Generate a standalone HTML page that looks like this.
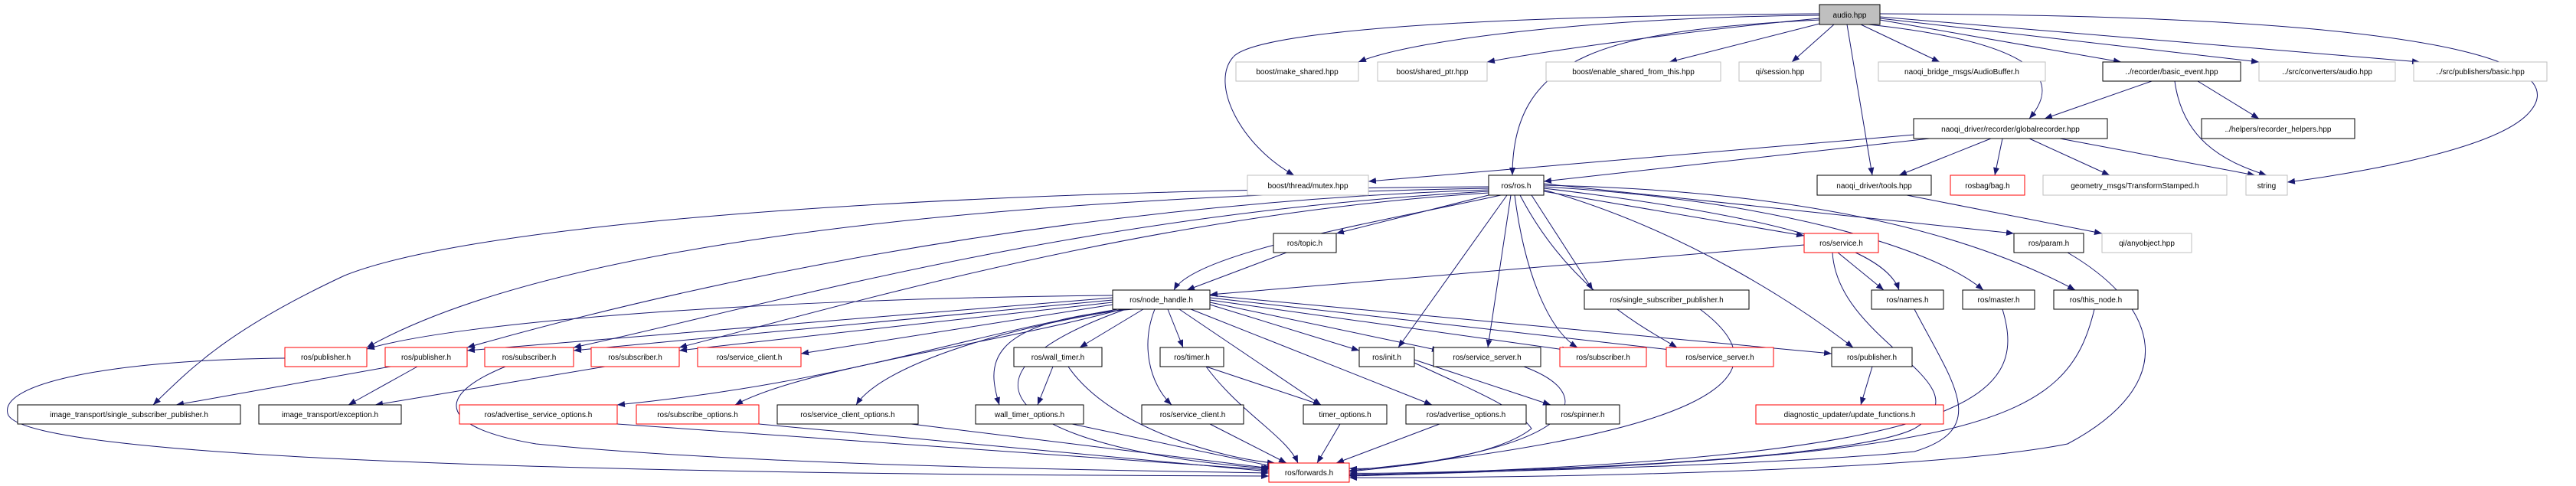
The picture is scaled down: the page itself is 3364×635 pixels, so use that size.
<!DOCTYPE html>
<html><head><meta charset="utf-8"><style>
html,body{margin:0;padding:0;background:#fff;}
svg{display:block;}
text{font-family:"Liberation Sans",sans-serif;font-size:10px;text-anchor:middle;fill:#000;}
.e{fill:none;stroke:#191970;stroke-width:1;marker-end:url(#a);}
.b{fill:#fff;stroke:#000;stroke-width:1;}
.g{fill:#fff;stroke:#bfbfbf;stroke-width:1;}
.r{fill:#fff;stroke:#ff0000;stroke-width:1;}
</style></head><body>
<svg width="3364" height="635" viewBox="0 0 3364 635" xmlns="http://www.w3.org/2000/svg">
<defs><marker id="a" markerWidth="10" markerHeight="8" refX="10" refY="4" orient="auto" markerUnits="userSpaceOnUse"><path d="M0,0 L10,4 L0,8z" fill="#191970"/></marker></defs>
<g>
<!-- audio edges -->
<path class="e" d="M2376,20 C2100,22 1850,50 1774,81"/>
<path class="e" d="M2376,24 C2200,40 2000,70 1942,81"/>
<path class="e" d="M2380,30 L2180,81"/>
<path class="e" d="M2395,32 L2340,81"/>
<path class="e" d="M2430,32 L2533,81"/>
<path class="e" d="M2455,26 L2770,81"/>
<path class="e" d="M2455,24 L2950,81"/>
<path class="e" d="M2455,22 L3160,81"/>
<path class="e" d="M2455,18 C3300,20 3350,100 3300,150 C3250,200 3050,230 2987,238"/>
<path class="e" d="M2376,18 C1800,22 1630,50 1610,75 C1580,110 1620,190 1690,229"/>
<path class="e" d="M2376,26 C2100,40 1975,70 1975,229"/>
<path class="e" d="M2412,32 L2445,229"/>
<path class="e" d="M2440,32 C2700,60 2680,120 2650,155"/>
<!-- basic_event -->
<path class="e" d="M2810,106 L2670,155"/>
<path class="e" d="M2870,106 L2950,155"/>
<path class="e" d="M2840,106 C2850,180 2900,210 2960,229"/>
<!-- globalrecorder -->
<path class="e" d="M2500,176 L1787,237"/>
<path class="e" d="M2520,181 L2016,237"/>
<path class="e" d="M2600,181 L2480,229"/>
<path class="e" d="M2615,181 L2605,229"/>
<path class="e" d="M2650,181 L2755,229"/>
<path class="e" d="M2690,181 L2945,229"/>
<path class="e" d="M2490,255 L2745,305"/>
<!-- ros.h -->
<path class="e" d="M1944,255 L1745,305"/>
<path class="e" d="M1960,255 C1800,290 1560,330 1533,379"/>
<path class="e" d="M2000,255 L2080,379"/>
<path class="e" d="M2016,250 L2356,308"/>
<path class="e" d="M2016,246 C2300,280 2460,320 2480,379"/>
<path class="e" d="M2016,244 C2300,260 2520,320 2590,379"/>
<path class="e" d="M2016,242 C2400,250 2600,320 2710,379"/>
<path class="e" d="M2016,240 L2630,305"/>
<path class="e" d="M2016,248 C2200,300 2350,400 2420,454"/>
<path class="e" d="M1968,255 L1826,454"/>
<path class="e" d="M1973,255 L1943,454"/>
<path class="e" d="M1978,255 C1990,350 2020,430 2060,454"/>
<path class="e" d="M1985,255 C2050,380 2150,430 2190,454"/>
<path class="e" d="M1944,252 C1500,280 1100,400 887,454"/>
<path class="e" d="M1944,250 C1400,280 1000,400 749,454"/>
<path class="e" d="M1944,248 C1300,270 800,400 610,454"/>
<path class="e" d="M1944,246 C1200,260 700,330 479,454"/>
<path class="e" d="M1944,244 C1100,250 600,300 450,360 C300,430 250,480 200,529"/>
<!-- node_handle -->
<path class="e" d="M1453,386 C1000,390 600,420 479,456"/>
<path class="e" d="M1453,389 L610,458"/>
<path class="e" d="M1453,392 L749,458"/>
<path class="e" d="M1453,395 L887,458"/>
<path class="e" d="M1453,398 L1046,462"/>
<path class="e" d="M1460,404 C1250,440 1100,500 806,529"/>
<path class="e" d="M1465,404 C1300,450 1050,480 960,529"/>
<path class="e" d="M1470,404 C1300,430 1150,480 1118,529"/>
<path class="e" d="M1480,404 C1280,420 1290,480 1305,529"/>
<path class="e" d="M1493,404 L1410,454"/>
<path class="e" d="M1525,404 L1545,454"/>
<path class="e" d="M1508,404 C1490,450 1500,500 1530,529"/>
<path class="e" d="M1540,404 L1725,529"/>
<path class="e" d="M1555,404 L1870,529"/>
<path class="e" d="M1580,398 L1775,458"/>
<path class="e" d="M1580,395 L1880,458"/>
<path class="e" d="M1580,392 L2050,458"/>
<path class="e" d="M1580,389 L2190,458"/>
<path class="e" d="M1580,386 L2392,462"/>
<path class="e" d="M1470,404 C1200,500 1350,590 1657,612"/>
<path class="e" d="M1680,330 L1550,379"/>
<!-- service -->
<path class="e" d="M2356,320 L1580,385"/>
<path class="e" d="M2400,330 L2460,379"/>
<path class="e" d="M2393,330 C2400,450 2600,500 2500,560 C2400,610 1800,620 1762,618"/>
<path class="e" d="M2445,479 L2430,529"/>
<!-- lower -->
<path class="e" d="M1375,479 L1355,529"/>
<path class="e" d="M1395,479 C1450,560 1600,600 1665,605"/>
<path class="e" d="M1575,479 L1725,529"/>
<path class="e" d="M1575,479 C1620,540 1680,570 1695,605"/>
<path class="e" d="M1847,470 L2025,529"/>
<path class="e" d="M1847,474 C1900,500 1980,530 2000,560 C1950,600 1800,615 1762,612"/>
<path class="e" d="M1400,554 L1665,610"/>
<path class="e" d="M1190,554 L1660,612"/>
<path class="e" d="M1580,554 L1680,605"/>
<path class="e" d="M1750,554 L1720,605"/>
<path class="e" d="M1880,554 L1745,605"/>
<path class="e" d="M660,479 C560,520 580,560 700,580 C1000,610 1500,615 1657,618"/>
<path class="e" d="M372,468 C150,470 0,500 10,540 C20,600 800,620 1657,622"/>
<path class="e" d="M806,554 L1657,614"/>
<path class="e" d="M991,554 L1657,616"/>
<path class="e" d="M790,479 L490,529"/>
<path class="e" d="M510,479 L230,529"/>
<path class="e" d="M545,479 L455,529"/>
<path class="e" d="M2220,404 C2350,500 2200,570 1762,615"/>
<path class="e" d="M2500,404 C2550,500 2600,560 2500,590 C2300,610 1800,620 1762,620"/>
<path class="e" d="M2615,404 C2650,520 2580,600 1762,621"/>
<path class="e" d="M2735,404 C2700,550 2600,600 1762,622"/>
<path class="e" d="M2700,330 C2820,400 2850,500 2700,580 C2500,620 1900,625 1762,624"/>
<path class="e" d="M1990,479 C2100,520 2050,590 1762,616"/>
</g>
<g>
<rect x="2376" y="6" width="79" height="26" fill="#bfbfbf" stroke="#000"/><text x="2415.5" y="23">audio.hpp</text>
<rect class="g" x="1614" y="81" width="160" height="25"/><text x="1694" y="97">boost/make_shared.hpp</text>
<rect class="g" x="1799" y="81" width="143" height="25"/><text x="1870.5" y="97">boost/shared_ptr.hpp</text>
<rect class="g" x="2019" y="81" width="228" height="25"/><text x="2133" y="97">boost/enable_shared_from_this.hpp</text>
<rect class="g" x="2271" y="81" width="107" height="25"/><text x="2324.5" y="97">qi/session.hpp</text>
<rect class="g" x="2453" y="81" width="218" height="25"/><text x="2562" y="97">naoqi_bridge_msgs/AudioBuffer.h</text>
<rect class="b" x="2746" y="81" width="180" height="25"/><text x="2836" y="97">../recorder/basic_event.hpp</text>
<rect class="g" x="2950" y="81" width="178" height="25"/><text x="3039" y="97">../src/converters/audio.hpp</text>
<rect class="g" x="3152" y="81" width="174" height="25"/><text x="3239" y="97">../src/publishers/basic.hpp</text>
<rect class="b" x="2499" y="155" width="253" height="26"/><text x="2625.5" y="172">naoqi_driver/recorder/globalrecorder.hpp</text>
<rect class="b" x="2875" y="155" width="200" height="26"/><text x="2975" y="172">../helpers/recorder_helpers.hpp</text>
<rect class="g" x="1629" y="229" width="158" height="26"/><text x="1708" y="246">boost/thread/mutex.hpp</text>
<rect class="b" x="1944" y="229" width="72" height="26"/><text x="1980" y="246">ros/ros.h</text>
<rect class="b" x="2373" y="229" width="149" height="26"/><text x="2447.5" y="246">naoqi_driver/tools.hpp</text>
<rect class="r" x="2547" y="229" width="97" height="26"/><text x="2595.5" y="246">rosbag/bag.h</text>
<rect class="g" x="2668" y="229" width="240" height="26"/><text x="2788" y="246">geometry_msgs/TransformStamped.h</text>
<rect class="g" x="2933" y="229" width="54" height="26"/><text x="2960" y="246">string</text>
<rect class="b" x="1663" y="305" width="82" height="25"/><text x="1704" y="321">ros/topic.h</text>
<rect class="r" x="2356" y="305" width="97" height="25"/><text x="2404.5" y="321">ros/service.h</text>
<rect class="b" x="2630" y="305" width="91" height="25"/><text x="2675.5" y="321">ros/param.h</text>
<rect class="g" x="2745" y="305" width="117" height="25"/><text x="2803.5" y="321">qi/anyobject.hpp</text>
<rect class="b" x="1453" y="379" width="127" height="25"/><text x="1516.5" y="395">ros/node_handle.h</text>
<rect class="b" x="2069" y="379" width="215" height="25"/><text x="2176.5" y="395">ros/single_subscriber_publisher.h</text>
<rect class="b" x="2444" y="379" width="94" height="25"/><text x="2491" y="395">ros/names.h</text>
<rect class="b" x="2563" y="379" width="94" height="25"/><text x="2610" y="395">ros/master.h</text>
<rect class="b" x="2682" y="379" width="110" height="25"/><text x="2737" y="395">ros/this_node.h</text>
<rect class="r" x="372" y="454" width="107" height="25"/><text x="425.5" y="470">ros/publisher.h</text>
<rect class="r" x="503" y="454" width="107" height="25"/><text x="556.5" y="470">ros/publisher.h</text>
<rect class="r" x="633" y="454" width="116" height="25"/><text x="691" y="470">ros/subscriber.h</text>
<rect class="r" x="772" y="454" width="115" height="25"/><text x="829.5" y="470">ros/subscriber.h</text>
<rect class="r" x="911" y="454" width="135" height="25"/><text x="978.5" y="470">ros/service_client.h</text>
<rect class="b" x="1324" y="454" width="115" height="25"/><text x="1381.5" y="470">ros/wall_timer.h</text>
<rect class="b" x="1515" y="454" width="83" height="25"/><text x="1556.5" y="470">ros/timer.h</text>
<rect class="b" x="1775" y="454" width="72" height="25"/><text x="1811" y="470">ros/init.h</text>
<rect class="b" x="1872" y="454" width="140" height="25"/><text x="1942" y="470">ros/service_server.h</text>
<rect class="r" x="2037" y="454" width="113" height="25"/><text x="2093.5" y="470">ros/subscriber.h</text>
<rect class="r" x="2176" y="454" width="140" height="25"/><text x="2246" y="470">ros/service_server.h</text>
<rect class="b" x="2392" y="454" width="105" height="25"/><text x="2444.5" y="470">ros/publisher.h</text>
<rect class="b" x="23" y="529" width="291" height="25"/><text x="168.5" y="545">image_transport/single_subscriber_publisher.h</text>
<rect class="b" x="338" y="529" width="186" height="25"/><text x="431" y="545">image_transport/exception.h</text>
<rect class="r" x="600" y="529" width="206" height="25"/><text x="703" y="545">ros/advertise_service_options.h</text>
<rect class="r" x="831" y="529" width="160" height="25"/><text x="911" y="545">ros/subscribe_options.h</text>
<rect class="b" x="1015" y="529" width="184" height="25"/><text x="1107" y="545">ros/service_client_options.h</text>
<rect class="b" x="1274" y="529" width="141" height="25"/><text x="1344.5" y="545">wall_timer_options.h</text>
<rect class="b" x="1491" y="529" width="133" height="25"/><text x="1557.5" y="545">ros/service_client.h</text>
<rect class="b" x="1702" y="529" width="109" height="25"/><text x="1756.5" y="545">timer_options.h</text>
<rect class="b" x="1836" y="529" width="157" height="25"/><text x="1914.5" y="545">ros/advertise_options.h</text>
<rect class="b" x="2019" y="529" width="96" height="25"/><text x="2067" y="545">ros/spinner.h</text>
<rect class="r" x="2293" y="529" width="245" height="25"/><text x="2415.5" y="545">diagnostic_updater/update_functions.h</text>
<rect class="r" x="1657" y="605" width="105" height="25"/><text x="1709.5" y="621">ros/forwards.h</text>
</g>
</svg>
</body></html>
